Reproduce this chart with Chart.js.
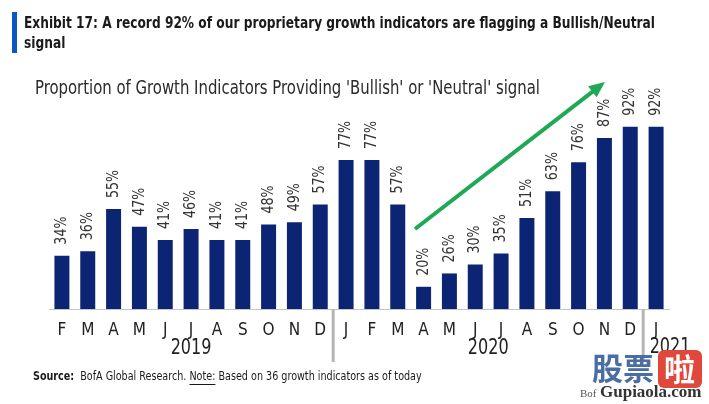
<!DOCTYPE html>
<html>
<head>
<meta charset="utf-8">
<script src="https://cdn.jsdelivr.net/npm/chart.js@4.4.1/dist/chart.umd.min.js"></script>
<style>
  html, body { margin: 0; padding: 0; background: #fff; }
  #wrap { width: 709px; height: 404px; position: relative; }
</style>
</head>
<body>
<div id="wrap"><canvas id="myChart" width="709" height="404"></canvas></div>
<script>
// months Feb 2019 .. Jan 2021
var months = ["F","M","A","M","J","J","A","S","O","N","D","J","F","M","A","M","J","J","A","S","O","N","D","J"];
var values = [34,36,55,47,41,46,41,41,48,49,57,77,77,57,20,26,30,35,51,63,76,87,92,92];
var years = ["2019","2020","2021"];
var yearStart = [0, 11, 23]; // index of first month of each year

var title1 = "Exhibit 17: A record 92% of our proprietary growth indicators are flagging a Bullish/Neutral";
var title2 = "signal";
var subtitle = "Proportion of Growth Indicators Providing 'Bullish' or 'Neutral' signal";

var NARROW = "'DejaVu Sans Condensed', 'Liberation Sans Narrow', sans-serif";

// draw text squeezed horizontally by factor sx (fake condensed font)
function squeezeText(c, text, x, y, sx) {
    c.save();
    c.translate(x, y);
    c.scale(sx, 1);
    c.fillText(text, 0, 0);
    c.restore();
    return c.measureText(text).width * sx;
}

var extras = {
    id: 'extras',
    afterDraw: function(chart) {
        var c = chart.ctx;
        var xs = chart.scales.x;
        var area = chart.chartArea;
        c.save();

        // header bar + title
        c.fillStyle = '#0a56c2';
        c.fillRect(12, 12, 5, 41);
        c.fillStyle = '#1a1a1a';
        c.font = "bold 16px " + NARROW;
        c.textBaseline = 'middle';
        c.textAlign = 'left';
        var k1 = 631 / c.measureText(title1).width;
        squeezeText(c, title1, 24, 24, k1);
        squeezeText(c, title2, 24, 44, k1);

        // subtitle
        c.fillStyle = '#2a2a2a';
        c.font = "19px " + NARROW;
        squeezeText(c, subtitle, 35, 89, 505 / c.measureText(subtitle).width);

        // value labels, rotated
        var meta = chart.getDatasetMeta(0);
        c.font = "16px " + NARROW;
        c.fillStyle = '#333';
        meta.data.forEach(function(bar, i) {
            c.save();
            c.translate(bar.x, bar.y - 11);
            c.rotate(-Math.PI / 2);
            c.textAlign = 'left';
            c.textBaseline = 'middle';
            squeezeText(c, values[i] + "%", 0, 0, 0.88);
            c.restore();
        });

        // year separators + year labels
        c.strokeStyle = '#b5b5b5';
        c.lineWidth = 3;
        for (var k = 1; k < yearStart.length; k++) {
            var sx = (xs.getPixelForValue(yearStart[k] - 1) + xs.getPixelForValue(yearStart[k])) / 2;
            c.beginPath();
            c.moveTo(sx, area.bottom);
            c.lineTo(sx, 362);
            c.stroke();
        }
        c.fillStyle = '#222';
        c.font = "21px " + NARROW;
        c.textAlign = 'left';
        for (var j = 0; j < years.length; j++) {
            var a = yearStart[j];
            var b = (j + 1 < yearStart.length ? yearStart[j + 1] : months.length) - 1;
            var cx = (xs.getPixelForValue(a) + xs.getPixelForValue(b)) / 2;
            if (j == years.length - 1) cx += 14;
            var w = c.measureText(years[j]).width * 0.85;
            squeezeText(c, years[j], cx - w / 2, j == years.length - 1 ? 348 : 349, 0.85);
        }

        // green trend arrow
        var x0 = 415, y0 = 229, x1 = 605, y1 = 82;
        c.strokeStyle = '#1fa855';
        c.fillStyle = '#1fa855';
        c.lineWidth = 4;
        var ang = Math.atan2(y1 - y0, x1 - x0);
        c.beginPath();
        c.moveTo(x0, y0);
        c.lineTo(x1 - 12 * Math.cos(ang), y1 - 12 * Math.sin(ang));
        c.stroke();
        c.beginPath();
        c.moveTo(x1, y1);
        c.lineTo(x1 - 16 * Math.cos(ang) + 7 * Math.sin(ang), y1 - 16 * Math.sin(ang) - 7 * Math.cos(ang));
        c.lineTo(x1 - 16 * Math.cos(ang) - 7 * Math.sin(ang), y1 - 16 * Math.sin(ang) + 7 * Math.cos(ang));
        c.closePath();
        c.fill();

        // source note
        c.textAlign = 'left';
        c.fillStyle = '#1a1a1a';
        var q = 0.89;
        c.font = "bold 12px " + NARROW;
        var px = 33;
        px += squeezeText(c, "Source:", px, 377, q) + 6;
        c.font = "12px " + NARROW;
        px += squeezeText(c, "BofA Global Research. ", px, 377, q);
        var nw = squeezeText(c, "Note:", px, 377, q);
        c.lineWidth = 1;
        c.strokeStyle = '#1a1a1a';
        c.beginPath();
        c.moveTo(px, 384.5);
        c.lineTo(px + nw, 384.5);
        c.stroke();
        squeezeText(c, " Based on 36 growth indicators as of today", px + nw, 377, q);

        // site watermark
        c.font = "bold 31px 'Noto Sans CJK SC'";
        c.fillStyle = '#4a6ea3';
        c.fillText("股票", 592, 368);
        c.fillStyle = '#e0483c';
        c.beginPath();
        c.roundRect(658, 350, 44, 38, 6);
        c.fill();
        c.fillStyle = '#fff';
        c.fillText("啦", 664, 369);
        c.fillStyle = '#555';
        c.font = "11px 'Liberation Serif', serif";
        c.fillText("Bof", 580, 394);
        c.fillStyle = '#333';
        c.font = "bold 17px 'Liberation Serif', serif";
        c.fillText("Gupiaola.com", 600, 393);

        c.restore();
    }
};

var ctx = document.getElementById('myChart').getContext('2d');
var chart = new Chart(ctx, {
    type: 'bar',
    data: {
        labels: months,
        datasets: [{
            data: values,
            backgroundColor: '#0b2574',
            barPercentage: 0.58,
            categoryPercentage: 1.0
        }]
    },
    options: {
        responsive: false,
        animation: false,
        layout: { padding: { left: 49, right: 40, top: 109, bottom: 65 } },
        plugins: {
            legend: { display: false },
            tooltip: { enabled: false }
        },
        scales: {
            x: {
                grid: { display: false, drawTicks: false },
                border: { display: true, color: '#c4c4c4', width: 1 },
                ticks: {
                    color: '#222',
                    padding: 11,
                    maxRotation: 0,
                    autoSkip: false,
                    font: { family: NARROW, size: 17 }
                },
                afterFit: function(scale) { scale.height = 30; }
            },
            y: {
                display: false,
                min: 10,
                max: 100
            }
        }
    },
    plugins: [extras]
});
</script>
</body>
</html>
